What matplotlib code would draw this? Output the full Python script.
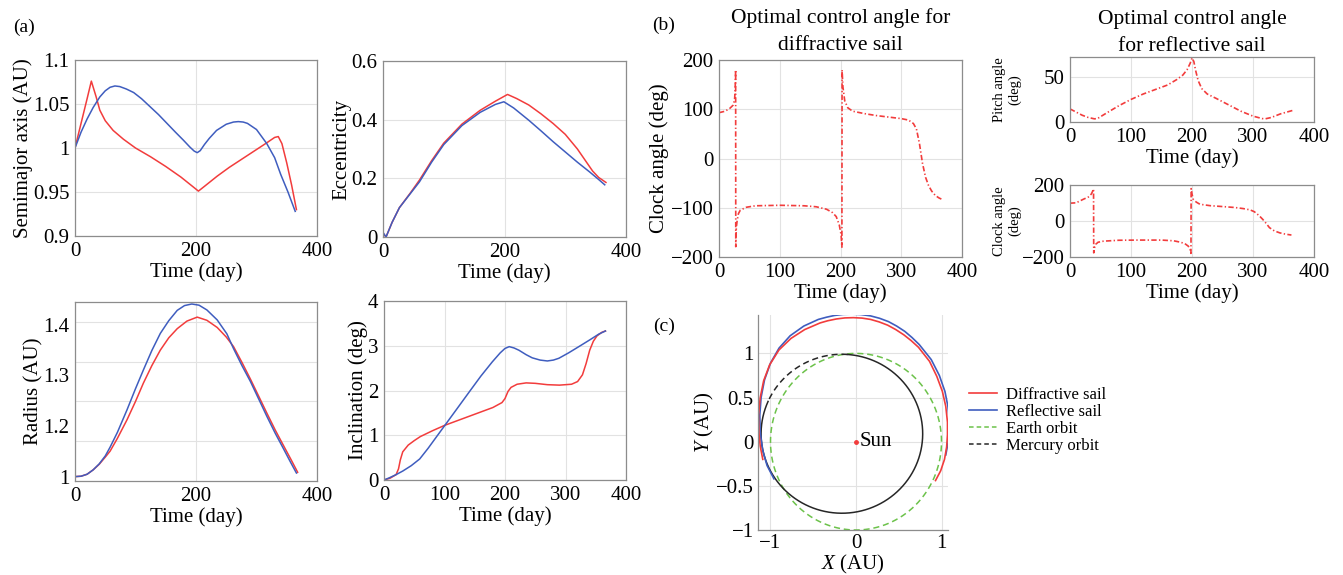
import numpy as np
import matplotlib.pyplot as plt
from matplotlib.ticker import FuncFormatter
from matplotlib.lines import Line2D

plt.rcParams['font.family'] = ['Liberation Serif', 'DejaVu Serif']
plt.rcParams['mathtext.fontset'] = 'custom'
plt.rcParams['mathtext.rm'] = 'Liberation Serif'
plt.rcParams['mathtext.it'] = 'Liberation Serif:italic'

RED = '#f23c3c'
BLUE = '#3f5dbf'
GREEN = '#6cc24a'
DARK = '#262626'

# ---- (a) orbital elements ----
semi_red_t = [0, 10, 20, 27, 35, 41, 50, 63, 80, 100, 125, 150, 175, 195, 204, 215, 235, 255, 275,
              295, 315, 330, 336, 342, 350, 358, 366]
semi_red = [1.0, 1.028, 1.056, 1.076, 1.058, 1.043, 1.031, 1.020, 1.010, 1.000, 0.990, 0.979, 0.967,
            0.956, 0.951, 0.957, 0.968, 0.978, 0.987, 0.996, 1.005, 1.012, 1.013, 1.005, 0.983,
            0.958, 0.930]
semi_blue_t = [0, 10, 20, 30, 41, 50, 58, 66, 74, 85, 97, 110, 124, 138, 152, 166, 179, 190, 197,
               202, 207, 214, 222, 234, 250, 262, 270, 278, 285, 300, 317, 330, 340, 352, 364]
semi_blue = [1.0, 1.018, 1.033, 1.046, 1.058, 1.065, 1.069, 1.0705, 1.0698, 1.067, 1.063, 1.056,
             1.047, 1.038, 1.028, 1.018, 1.009, 1.001, 0.9965, 0.9947, 0.997, 1.004, 1.011, 1.020,
             1.027, 1.0295, 1.030, 1.0295, 1.028, 1.021, 1.005, 0.989, 0.970, 0.950, 0.928]

ecc_red_t = [0, 5, 15, 27, 45, 60, 80, 100, 130, 160, 185, 205, 220, 240, 260, 280, 300, 320, 335,
             345, 355, 367]
ecc_red = [0.012, 0.0, 0.05, 0.10, 0.15, 0.194, 0.26, 0.32, 0.385, 0.432, 0.463, 0.486, 0.472, 0.45,
           0.42, 0.387, 0.35, 0.30, 0.255, 0.225, 0.203, 0.186]
ecc_blue_t = [0, 5, 15, 27, 45, 60, 80, 100, 130, 160, 185, 199, 215, 240, 260, 280, 300, 320, 340,
              355, 365]
ecc_blue = [0.016, 0.0, 0.05, 0.10, 0.148, 0.188, 0.255, 0.315, 0.38, 0.425, 0.452, 0.461, 0.44,
            0.398, 0.362, 0.325, 0.29, 0.255, 0.222, 0.196, 0.178]

rad_red_t = [0, 10, 20, 30, 40, 50, 58, 70, 86, 100, 113, 127, 141, 155, 169, 185, 202, 218, 235,
             250, 262, 276, 290, 304, 317, 331, 345, 357, 368]
rad_red = [1.011, 1.012, 1.017, 1.028, 1.042, 1.06, 1.075, 1.107, 1.154, 1.2, 1.246, 1.29, 1.329,
           1.36, 1.383, 1.402, 1.412, 1.404, 1.386, 1.362, 1.338, 1.298, 1.256, 1.212, 1.171,
           1.128, 1.088, 1.054, 1.022]
rad_blue_t = [0, 10, 20, 30, 40, 50, 58, 70, 86, 100, 113, 127, 141, 155, 169, 181, 193, 205, 218,
              235, 251, 262, 276, 290, 304, 317, 331, 345, 356, 366]
rad_blue = [1.011, 1.012, 1.017, 1.028, 1.043, 1.063, 1.085, 1.122, 1.179, 1.232, 1.279, 1.328,
            1.371, 1.403, 1.429, 1.441, 1.445, 1.442, 1.43, 1.405, 1.37, 1.333, 1.29, 1.25,
            1.205, 1.163, 1.12, 1.08, 1.048, 1.02]
rad_tick_pos = [1.01, 1.1375, 1.267, 1.392]
rad_tick_lab = ['1', '1.2', '1.3', '1.4']
rad_grid = [1.1, 1.2, 1.3, 1.4]

inc_red_t = [0, 10, 20, 24, 27, 31, 40, 50, 60, 80, 100, 120, 140, 160, 180, 195, 200, 205, 210,
             220, 235, 250, 270, 290, 310, 320, 328, 334, 340, 346, 352, 360, 366]
inc_red = [0, 0.04, 0.12, 0.25, 0.45, 0.63, 0.78, 0.88, 0.97, 1.10, 1.22, 1.32, 1.42, 1.52, 1.62,
           1.73, 1.82, 1.98, 2.07, 2.14, 2.17, 2.16, 2.13, 2.12, 2.14, 2.20, 2.35, 2.60, 2.90,
           3.10, 3.22, 3.30, 3.33]
inc_blue_t = [0, 9, 20, 31, 45, 59, 73, 87, 100, 120, 141, 160, 179, 192, 200, 207, 215, 223, 235,
              245, 258, 270, 280, 289, 305, 322, 340, 355, 366]
inc_blue = [0, 0.05, 0.12, 0.2, 0.32, 0.47, 0.71, 0.97, 1.21, 1.58, 1.97, 2.32, 2.64, 2.84, 2.94,
            2.98, 2.95, 2.9, 2.8, 2.73, 2.68, 2.66, 2.68, 2.72, 2.84, 2.98, 3.13, 3.26, 3.33]

# ---- (b) control angles ----
clk_d_t = [0, 10, 18, 23, 25.5, 26.5, 27.4, 27.6, 28.5, 30, 32, 35, 45, 60, 100, 140, 160, 177, 187,
           193, 198, 201, 202.3, 202.6, 204, 207, 212, 220, 240, 260, 280, 300, 312, 320, 325, 330,
           335, 340, 345, 350, 356, 362, 367]
clk_d = [93, 96, 102, 108, 118, 135, 180, -179, -140, -125, -112, -105, -99, -96, -95, -96, -98,
         -103, -110, -118, -135, -155, -180, 180, 145, 117, 103, 96, 91, 87, 84, 81, 78, 71, 60,
         30, -10, -38, -55, -66, -75, -80, -83]

pitch_r_t = [0, 10, 20, 30, 40, 45, 60, 80, 100, 120, 140, 160, 175, 185, 192, 197, 200, 203, 206,
             210, 216, 225, 240, 260, 280, 300, 315, 320, 330, 345, 366]
pitch_r = [14.5, 11, 7.5, 5, 3.5, 3.8, 10, 18, 25, 31, 36, 41, 47, 52, 58, 65, 71, 67, 57, 46, 37,
           31, 26, 19, 12, 6.5, 3.8, 3.5, 5, 9, 13]

clk_r_t = [0, 10, 22, 30, 35, 38, 38.6, 38.9, 40, 42, 46, 55, 80, 110, 150, 170, 180, 188, 194, 197,
           198.3, 198.6, 200, 202, 207, 213, 230, 251, 270, 284, 295, 302, 310, 316, 322, 327, 335,
           344, 353, 363]
clk_r = [99, 101, 121, 133, 150, 172, 178, -177, -150, -130, -118, -112, -107, -106, -106, -110,
         -117, -125, -140, -160, -180, 180, 150, 121, 105, 93, 85, 80, 75, 69, 62, 52, 30, 9, -15,
         -37, -55, -66, -73, -78]

# ---- (c) trajectories (AU) ----
refl_x = [1.05, 1.075, 1.09, 1.09, 1.075, 1.04, 0.975, 0.88, 0.74, 0.655, 0.57, 0.475, 0.38, 0.275,
          0.17, 0.06, -0.05, -0.15, -0.25, -0.345, -0.44, -0.61, -0.77, -0.9, -1.0, -1.07, -1.11,
          -1.125, -1.12, -1.09, -1.04, -0.96]
refl_y = [-0.15, -0.02, 0.13, 0.25, 0.4, 0.57, 0.75, 0.93, 1.1, 1.18, 1.25, 1.31, 1.36, 1.398,
          1.425, 1.44, 1.445, 1.442, 1.43, 1.41, 1.385, 1.31, 1.2, 1.06, 0.89, 0.7, 0.5, 0.3, 0.1,
          -0.1, -0.27, -0.42]
diff_x = [0.93, 0.99, 1.035, 1.06, 1.07, 1.07, 1.05, 1.01, 0.945, 0.86, 0.73, 0.645, 0.56, 0.465,
          0.37, 0.27, 0.17, 0.07, -0.03, -0.13, -0.23, -0.33, -0.42, -0.6, -0.76, -0.9, -1.01,
          -1.08, -1.12, -1.14, -1.135, -1.12, -1.09]
diff_y = [-0.44, -0.33, -0.2, -0.06, 0.08, 0.22, 0.4, 0.57, 0.74, 0.91, 1.07, 1.145, 1.21, 1.27,
          1.32, 1.357, 1.385, 1.4, 1.405, 1.402, 1.39, 1.37, 1.345, 1.27, 1.17, 1.04, 0.87, 0.69,
          0.5, 0.3, 0.1, -0.05, -0.2]
earth_r = 1.0
merc_center = (-0.165, 0.09)
merc_axes = (0.945, 0.90)

legend_labels = ['Diffractive sail', 'Reflective sail', 'Earth orbit', 'Mercury orbit']

W, H = 1343, 575
fig = plt.figure(figsize=(W / 100, H / 100), dpi=100)
fmt = FuncFormatter(lambda v, p: ('%g' % v).replace('-', '\u2212'))
dashdot = (0, (3.2, 1.4, 0.8, 1.4))
dashed = (0, (4, 2.5))


def box(l, t, r, b):
    ax = fig.add_axes([l / W, 1 - b / H, (r - l) / W, (b - t) / H])
    for s in ax.spines.values():
        s.set_color('#8c8c8c')
        s.set_linewidth(0.9)
    ax.tick_params(length=0, labelsize=15, pad=4)
    ax.grid(True, color='#e2e2e2', lw=0.8)
    ax.set_axisbelow(True)
    ax.xaxis.set_major_formatter(fmt)
    ax.yaxis.set_major_formatter(fmt)
    return ax


def time_axis(ax, ticks):
    ax.set_xlim(0, 400)
    ax.set_xticks(ticks)
    ax.set_xlabel('Time (day)', fontsize=15, labelpad=1)


# semimajor axis
ax = box(75, 60, 317, 236)
ax.plot(semi_red_t, semi_red, color=RED, lw=1.1)
ax.plot(semi_blue_t, semi_blue, color=BLUE, lw=1.1)
time_axis(ax, [0, 200, 400])
ax.set_ylim(0.9, 1.1)
ax.set_yticks([0.9, 0.95, 1.0, 1.05, 1.1])
ax.set_ylabel('Semimajor axis (AU)', fontsize=15, labelpad=0)

# eccentricity
ax = box(383, 61, 626, 237)
ax.plot(ecc_red_t, ecc_red, color=RED, lw=1.1)
ax.plot(ecc_blue_t, ecc_blue, color=BLUE, lw=1.1)
time_axis(ax, [0, 200, 400])
ax.set_ylim(0, 0.6)
ax.set_yticks([0, 0.2, 0.4, 0.6])
ax.set_ylabel('Eccentricity', fontsize=15, labelpad=0)

# radius
ax = box(75, 302, 317, 481)
ax.plot(rad_red_t, rad_red, color=RED, lw=1.1)
ax.plot(rad_blue_t, rad_blue, color=BLUE, lw=1.1)
time_axis(ax, [0, 200, 400])
ax.set_ylim(1.0, 1.45)
ax.set_yticks(rad_tick_pos)
ax.set_yticklabels(rad_tick_lab)
ax.set_yticks(rad_grid, minor=True)
ax.grid(False, axis='y', which='major')
ax.grid(True, axis='y', which='minor', color='#e2e2e2', lw=0.8)
ax.tick_params(which='minor', length=0)
ax.set_ylabel('Radius (AU)', fontsize=15, labelpad=0)

# inclination
ax = box(384, 301, 626, 480)
ax.plot(inc_red_t, inc_red, color=RED, lw=1.1)
ax.plot(inc_blue_t, inc_blue, color=BLUE, lw=1.1)
time_axis(ax, [0, 100, 200, 300, 400])
ax.set_ylim(0, 4)
ax.set_yticks([0, 1, 2, 3, 4])
ax.set_ylabel('Inclination (deg)', fontsize=15, labelpad=0)

# clock angle, diffractive sail
ax = box(719, 60, 962, 257)
ax.plot(clk_d_t, clk_d, color=RED, lw=1.2, ls=dashdot)
time_axis(ax, [0, 100, 200, 300, 400])
ax.set_ylim(-200, 200)
ax.set_yticks([-200, -100, 0, 100, 200])
ax.set_ylabel('Clock angle (deg)', fontsize=15, labelpad=1)
ax.set_title('Optimal control angle for\ndiffractive sail', fontsize=15.5, linespacing=1.6, pad=7)

# pitch angle, reflective sail
ax = box(1070, 57, 1314, 122)
ax.plot(pitch_r_t, pitch_r, color=RED, lw=1.2, ls=dashdot)
time_axis(ax, [0, 100, 200, 300, 400])
ax.set_ylim(0, 72)
ax.set_yticks([0, 50])
ax.set_ylabel('Pitch angle\n(deg)', fontsize=10.5, linespacing=1.15)
ax.yaxis.set_label_coords(-0.2, 0.5)
ax.set_title('Optimal control angle\nfor reflective sail', fontsize=15.5, linespacing=1.6, pad=4)

# clock angle, reflective sail
ax = box(1070, 185, 1314, 257)
ax.plot(clk_r_t, clk_r, color=RED, lw=1.2, ls=dashdot)
time_axis(ax, [0, 100, 200, 300, 400])
ax.set_ylim(-200, 200)
ax.set_yticks([-200, 0, 200])
ax.set_ylabel('Clock angle\n(deg)', fontsize=10.5, linespacing=1.15)
ax.yaxis.set_label_coords(-0.2, 0.5)

# trajectories
ax = box(758, 315, 948, 530)
ax.spines['top'].set_visible(False)
ax.spines['right'].set_visible(False)
ax.tick_params(pad=3)
th = np.linspace(0, 2 * np.pi, 400)
ax.plot(earth_r * np.cos(th), earth_r * np.sin(th), color=GREEN, lw=1.1, ls=dashed)
ph_d = np.radians(np.linspace(86, 156, 80))
ph_s = np.radians(np.linspace(156, 446, 300))
mx, my = merc_center
ma, mb = merc_axes
ax.plot(mx + ma * np.cos(ph_d), my + mb * np.sin(ph_d), color=DARK, lw=1.1, ls=dashed)
ax.plot(mx + ma * np.cos(ph_s), my + mb * np.sin(ph_s), color=DARK, lw=1.1)
ax.plot(refl_x, refl_y, color=BLUE, lw=1.2)
ax.plot(diff_x, diff_y, color=RED, lw=1.2)
ax.plot([0], [0], marker='.', color=RED, ms=5)
ax.text(0.04, 0.0, 'Sun', fontsize=15, va='center', ha='left')
ax.set_xlim(-1.146, 1.076)
ax.set_ylim(-1.0, 1.435)
ax.set_xticks([-1, 0, 1])
ax.set_yticks([-1, -0.5, 0, 0.5, 1])
ax.set_xlabel('$X$ (AU)', fontsize=15, labelpad=0)
ax.set_ylabel('$Y$ (AU)', fontsize=15, labelpad=0)

handles = [Line2D([], [], color=RED, lw=1.2),
           Line2D([], [], color=BLUE, lw=1.2),
           Line2D([], [], color=GREEN, lw=1.1, ls=(0, (3, 2))),
           Line2D([], [], color=DARK, lw=1.1, ls=(0, (3, 2)))]
fig.legend(handles, legend_labels, loc='upper left', bbox_to_anchor=(969 / W, 1 - 387 / H),
           frameon=False, fontsize=12, handlelength=1.7, handletextpad=0.5,
           labelspacing=0.05, borderaxespad=0, borderpad=0)

fig.text(13 / W, 1 - 27 / H, '(a)', fontsize=14, va='center')
fig.text(652 / W, 1 - 25 / H, '(b)', fontsize=14, va='center')
fig.text(653 / W, 1 - 326 / H, '(c)', fontsize=14, va='center')

fig.savefig('out.png', dpi=100)
